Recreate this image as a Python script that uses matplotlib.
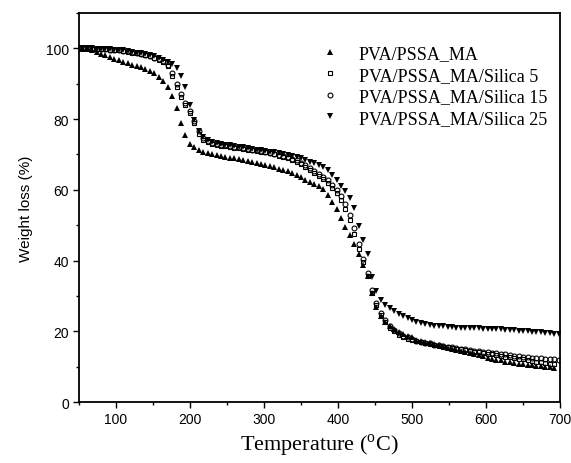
# TGA кривые PVA/PSSA_MA с разным содержанием кремнезёма
import matplotlib
matplotlib.use('Agg')
import matplotlib.pyplot as plt
from matplotlib.pyplot import MultipleLocator

plt.rcParams['mathtext.fontset'] = 'custom'
plt.rcParams['mathtext.rm'] = 'Liberation Serif'

# Температура, °C (шаг примерно как у точек на графике)
temp = [50, 56, 62, 68, 74, 80, 86, 92, 98, 104, 110, 116, 122, 128, 134, 140,
        146, 152, 158, 164, 170, 176, 182, 188, 194, 200, 206, 212, 218, 224,
        230, 236, 242, 248, 254, 260, 266, 272, 278, 284, 290, 296, 302, 308,
        314, 320, 326, 332, 338, 344, 350, 356, 362, 368, 374, 380, 386, 392,
        398, 404, 410, 416, 422, 428, 434, 440, 446, 452, 458, 464, 470, 476,
        482, 488, 494, 500, 506, 512, 518, 524, 530, 536, 542, 548, 554, 560,
        566, 572, 578, 584, 590, 596, 602, 608, 614, 620, 626, 632, 638, 644,
        650, 656, 662, 668, 674, 680, 686, 692, 698]

# PVA/PSSA_MA
w_ma = [100.0, 99.9, 99.7, 99.4, 99.0, 98.5, 98.0, 97.5, 97.1, 96.6, 96.2, 95.8,
        95.4, 95.0, 94.6, 94.2, 93.7, 93.0, 92.0, 90.8, 89.0, 86.4, 83.0, 79.0,
        75.5, 73.0, 72.0, 71.3, 70.8, 70.4, 70.1, 69.9, 69.6, 69.4, 69.1, 68.9,
        68.6, 68.4, 68.2, 68.0, 67.7, 67.4, 67.1, 66.8, 66.4, 66.0, 65.6, 65.2,
        64.7, 64.3, 63.6, 62.9, 62.3, 61.6, 61.0, 60.3, 58.6, 56.6, 54.5, 52.0,
        49.6, 47.2, 44.6, 41.8, 38.9, 35.6, 31.0, 27.0, 24.3, 22.7, 21.4, 20.6,
        19.9, 19.3, 18.8, 18.3, 17.7, 17.3, 17.0, 16.7, 16.4, 16.1, 15.8, 15.4,
        15.1, 14.8, 14.5, 14.3, 14.0, 13.7, 13.4, 13.0, 12.6, 12.3, 12.0, 11.8,
        11.5, 11.3, 11.1, 10.9, 10.7, 10.5, 10.4, 10.3, 10.1, 10.0, 9.9, 9.8]

# PVA/PSSA_MA/Silica 5
w_s5 = [100.0, 100.0, 100.0, 99.9, 99.9, 99.8, 99.7, 99.6, 99.5, 99.4, 99.2, 99.0,
        98.8, 98.6, 98.3, 98.0, 97.7, 97.3, 96.8, 96.0, 95.0, 92.2, 89.0, 86.2,
        84.0, 81.8, 78.8, 75.8, 74.2, 73.5, 73.0, 72.7, 72.5, 72.3, 72.1, 71.9,
        71.7, 71.6, 71.4, 71.2, 71.0, 70.8, 70.6, 70.3, 70.0, 69.7, 69.3, 68.9,
        68.4, 67.8, 67.2, 66.5, 65.7, 64.9, 64.0, 63.0, 61.9, 60.6, 59.0, 57.0,
        54.6, 51.6, 47.6, 43.4, 39.6, 35.8, 31.0, 27.4, 24.6, 22.6, 21.1, 20.0,
        19.1, 18.5, 18.0, 17.6, 17.2, 16.9, 16.6, 16.4, 16.1, 15.9, 15.7, 15.5,
        15.3, 15.1, 14.9, 14.7, 14.5, 14.3, 14.1, 13.9, 13.7, 13.5, 13.3, 13.1,
        12.9, 12.7, 12.5, 12.3, 12.1, 11.9, 11.7, 11.5, 11.3, 11.1, 10.9, 10.7]

# PVA/PSSA_MA/Silica 15
w_s15 = [100.0, 100.0, 100.0, 99.9, 99.9, 99.8, 99.7, 99.6, 99.5, 99.4, 99.3, 99.1,
         98.9, 98.7, 98.4, 98.1, 97.8, 97.4, 96.9, 96.3, 95.3, 93.0, 90.0, 87.0,
         84.6, 82.3, 79.5, 76.5, 74.6, 73.8, 73.3, 73.0, 72.8, 72.6, 72.4, 72.2,
         72.0, 71.8, 71.6, 71.4, 71.2, 71.0, 70.8, 70.5, 70.2, 69.9, 69.6, 69.2,
         68.8, 68.3, 67.7, 67.0, 66.2, 65.4, 64.6, 63.7, 62.7, 61.5, 60.1, 58.3,
         55.9, 53.0, 49.2, 44.8, 40.6, 36.6, 31.6, 28.0, 25.2, 23.2, 21.6, 20.4,
         19.5, 18.8, 18.3, 17.8, 17.4, 17.1, 16.8, 16.6, 16.3, 16.1, 15.9, 15.7,
         15.5, 15.3, 15.1, 14.9, 14.8, 14.6, 14.4, 14.2, 14.1, 13.9, 13.8, 13.6,
         13.5, 13.3, 13.2, 13.0, 12.9, 12.8, 12.6, 12.5, 12.4, 12.3, 12.2, 12.1, 12.0]

# PVA/PSSA_MA/Silica 25
w_s25 = [100.0, 100.0, 100.0, 100.0, 99.9, 99.9, 99.8, 99.7, 99.6, 99.5, 99.4, 99.2,
         99.0, 98.8, 98.6, 98.3, 98.0, 97.7, 97.3, 96.8, 96.2, 95.6, 94.5, 92.2,
         89.0, 84.0, 79.7, 76.6, 75.0, 74.0, 73.5, 73.2, 73.0, 72.8, 72.6, 72.4,
         72.2, 72.0, 71.8, 71.6, 71.4, 71.2, 71.0, 70.8, 70.6, 70.4, 70.1, 69.8,
         69.5, 69.2, 68.9, 68.5, 68.0, 67.5, 67.0, 66.4, 65.6, 64.2, 62.7, 61.2,
         59.6, 57.7, 54.8, 49.8, 45.9, 41.8, 35.4, 31.4, 28.8, 27.6, 26.7, 25.8,
         25.0, 24.3, 23.8, 23.2, 22.8, 22.4, 22.1, 21.8, 21.6, 21.5, 21.4, 21.3,
         21.2, 21.1, 21.1, 21.0, 21.0, 20.9, 20.9, 20.8, 20.7, 20.7, 20.6, 20.6,
         20.5, 20.4, 20.3, 20.2, 20.1, 20.0, 19.9, 19.8, 19.7, 19.6, 19.5, 19.4, 19.3]

fig = plt.figure(figsize=(5.71, 4.64), dpi=100)
ax = fig.add_axes([0.138, 0.131, 0.843, 0.839])

ms = 4
ax.plot(temp[:len(w_ma)], w_ma, '^', color='k', ms=ms, mew=0, label='PVA/PSSA_MA')
ax.plot(temp[:len(w_s5)], w_s5, 's', mfc='none', mec='k', ms=ms - 0.5, mew=0.8,
        label='PVA/PSSA_MA/Silica 5')
ax.plot(temp[:len(w_s15)], w_s15, 'o', mfc='none', mec='k', ms=ms - 0.5, mew=0.8,
        label='PVA/PSSA_MA/Silica 15')
ax.plot(temp[:len(w_s25)], w_s25, 'v', color='k', ms=ms, mew=0,
        label='PVA/PSSA_MA/Silica 25')

ax.set_xlim(50, 700)
ax.set_ylim(0, 110)
ax.xaxis.set_major_locator(MultipleLocator(100))
ax.xaxis.set_minor_locator(MultipleLocator(50))
ax.yaxis.set_major_locator(MultipleLocator(20))
ax.yaxis.set_minor_locator(MultipleLocator(10))
ax.tick_params(which='major', direction='out', length=4, width=1, labelsize=10,
               pad=3, top=False, right=False)
ax.tick_params(which='minor', direction='out', length=2.5, width=1,
               top=False, right=False)
for lbl in ax.get_xticklabels() + ax.get_yticklabels():
    lbl.set_fontfamily('Liberation Sans')
for sp in ax.spines.values():
    sp.set_linewidth(1.3)

ax.set_xlabel(r'Temperature ($^{\mathrm{o}}$C)', fontfamily='Liberation Serif',
              fontsize=16, labelpad=4)
ax.set_ylabel('Weight loss (%)', fontfamily='Liberation Sans',
              fontsize=11, labelpad=9)

ax.legend(loc='upper left', bbox_to_anchor=(0.503, 0.917), frameon=False,
          numpoints=1, handlelength=1.0, handletextpad=1.1, borderpad=0,
          borderaxespad=0, labelspacing=0.25,
          prop={'family': 'Liberation Serif', 'size': 13})

plt.savefig('out.png', dpi=100)
